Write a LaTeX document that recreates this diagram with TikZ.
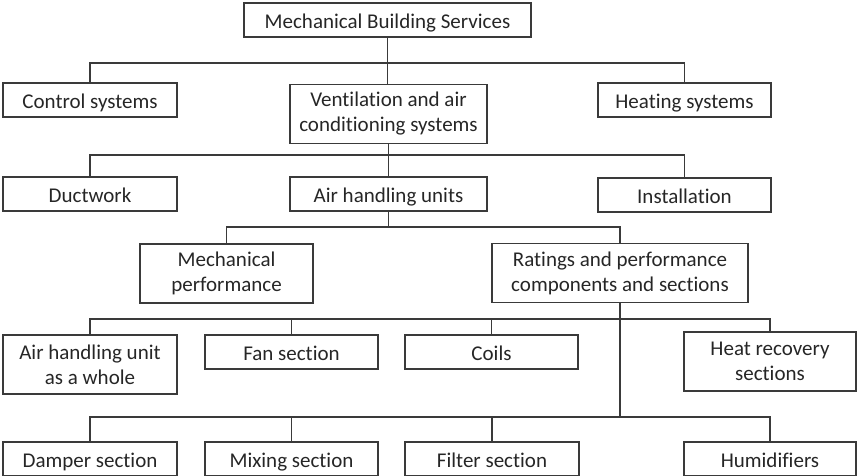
\documentclass[tikz,border=0pt]{standalone}
\usepackage{fontspec}
\setmainfont{Carlito}[Ligatures=NoCommon]
\usepackage{xcolor}
\usepackage{tikz}
\definecolor{linegray}{HTML}{3A3A3A}
\definecolor{textgray}{HTML}{262626}

\tikzset{
  box/.style={draw=linegray, line width=1.2pt, align=center, text=textgray,
    font=\fontsize{21}{25}\selectfont, inner sep=0pt, minimum height=34pt,
    text height=16pt, text depth=0pt},
  tall/.style={minimum height=59pt, text height=, text depth=},
  link/.style={draw=linegray, line width=1.1pt}
}

\begin{document}
\begin{tikzpicture}[x=1pt, y=-1pt]
\useasboundingbox (0,0) rectangle (857,475);

% Define the boxes, top level first
\node[box, minimum width=287pt] (msvc) at (387.5,20) {Mechanical Building Services};

\node[box, minimum width=174pt] (ctrl) at (90,100) {Control systems};
\node[box, tall, minimum width=197pt] (vent) at (388.5,114) {Ventilation and air\\conditioning systems};
\node[box, minimum width=173pt] (heat) at (684.5,100) {Heating systems};

\node[box, minimum width=174pt] (duct) at (90,194) {Ductwork};
\node[box, minimum width=197pt] (ahu) at (388.5,194) {Air handling units};
\node[box, minimum width=173pt] (inst) at (684.5,195) {Installation};

\node[box, tall, minimum width=173pt] (mech) at (226.5,273.5) {Mechanical\\performance};
\node[box, tall, minimum width=256pt] (rate) at (620,273) {Ratings and performance\\components and sections};

\node[box, tall, minimum width=174pt] (whole) at (90,364.5) {Air handling unit\\as a whole};
\node[box, minimum width=173pt] (fan) at (291.5,352) {Fan section};
\node[box, minimum width=173pt] (coils) at (491.5,352) {Coils};
\node[box, tall, minimum width=172pt] (hrec) at (770,361.5) {Heat recovery\\sections};

% Bottom row runs off the lower edge
\node[box, minimum width=174pt] (damp) at (90,459) {Damper section};
\node[box, minimum width=173pt] (mix) at (291.5,459) {Mixing section};
\node[box, minimum width=174pt] (filt) at (492,459) {Filter section};
\node[box, minimum width=172pt] (humid) at (770,459) {Humidifiers};

% Bus points of the tree
\coordinate (b1) at (387.5,63);
\coordinate (b2) at (388.5,155);
\coordinate (b3) at (388.5,227);
\coordinate (b4) at (620,319);
\coordinate (b5) at (620,417);

% Connectors
\draw[link] (msvc.south) -- (msvc.south |- vent.north);
\draw[link] (ctrl.north) |- (b1) -| (heat.north);

\draw[link] (vent.south) -- (ahu.north);
\draw[link] (duct.north) |- (b2) -| (inst.north);

\draw[link] (ahu.south) -- (b3);
\draw[link] (mech.north) |- (b3) -| (rate.north);

\draw[link] (rate.south) -- (b5);
\draw[link] (whole.north) |- (b4) -| (hrec.north);
\draw[link] (fan.north) -- (fan.north |- b4);
\draw[link] (coils.north) -- (coils.north |- b4);

\draw[link] (damp.north) |- (b5) -| (humid.north);
\draw[link] (mix.north) -- (mix.north |- b5);
\draw[link] (filt.north) -- (filt.north |- b5);
\end{tikzpicture}
\end{document}
